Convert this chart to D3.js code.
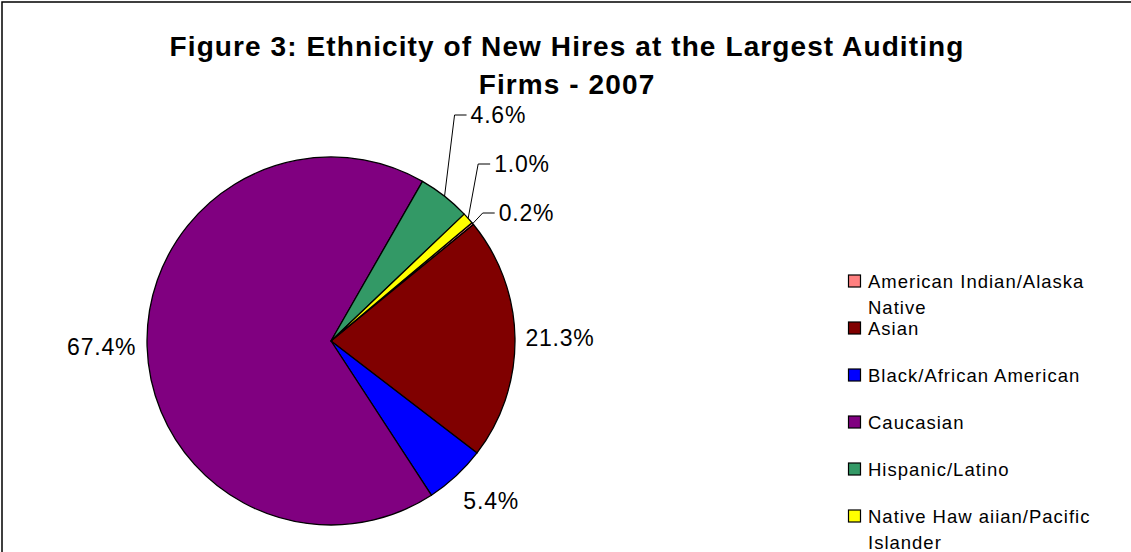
<!DOCTYPE html>
<html lang="en">
<head>
  <meta charset="utf-8">
  <title>Ethnicity of New Hires</title>
  <script src="https://d3js.org/d3.v7.min.js"></script>
  <style>
    body { margin: 0; background: #fff; }
    svg text { font-family: "Liberation Sans", Arial, sans-serif; fill: #000; }
  </style>
</head>
<body>
<svg width="1131" height="552"></svg>
<script>
// data
var groups = ["American Indian/Alaska Native", "Asian", "Black/African American",
              "Caucasian", "Hispanic/Latino", "Native Haw aiian/Pacific Islander"];
var shares = [0.2, 21.3, 5.4, 67.4, 4.6, 1.0];
var legendLines = [["American Indian/Alaska", "Native"], ["Asian"], ["Black/African American"],
                   ["Caucasian"], ["Hispanic/Latino"], ["Native Haw aiian/Pacific", "Islander"]];
var colors = ["#FF8080", "#800000", "#0000FF", "#800080", "#339966", "#FFFF00"];
var titleLines = ["Figure 3: Ethnicity of New Hires at the Largest Auditing", "Firms - 2007"];

var svg = d3.select("svg"),
    cx = 331, cy = 341, radius = 184;

// chart frame (runs off the right and bottom)
svg.append("rect")
    .attr("x", 2).attr("y", 2)
    .attr("width", 1160).attr("height", 580)
    .attr("fill", "none").attr("stroke", "#000").attr("stroke-width", 1.5);

svg.selectAll("text.title")
  .data(titleLines)
  .enter().append("text")
    .attr("class", "title")
    .attr("x", 567)
    .attr("y", function(d, i) { return 56 + i * 38; })
    .attr("text-anchor", "middle")
    .style("font-size", "28px")
    .style("letter-spacing", "1.1px")
    .style("font-weight", "bold")
    .text(function(d) { return d; });

var color = d3.scaleOrdinal().domain(groups).range(colors);

var pie = d3.pie()
    .sort(null)
    .startAngle(50 * Math.PI / 180)
    .endAngle(50 * Math.PI / 180 + 2 * Math.PI)
    .value(function(d, i) { return shares[i]; });

var arcs = pie(groups);

var arc = d3.arc().innerRadius(0).outerRadius(radius);

var g = svg.append("g").attr("transform", "translate(" + cx + "," + cy + ")");

g.selectAll("path")
  .data(arcs)
  .enter().append("path")
    .attr("d", arc)
    .attr("fill", function(d) { return color(d.data); })
    .attr("stroke", "#000")
    .attr("stroke-width", 1.3)
    .attr("stroke-linejoin", "round");

function mid(d) { return ((d.startAngle + d.endAngle) / 2) % (2 * Math.PI); }

// labels outside end for big slices, leader lines for the small ones
var big = arcs.filter(function(d) { return d.value >= 5; });
var small = arcs.filter(function(d) { return d.value < 5; })
    .sort(function(a, b) { return mid(b) - mid(a); });

var labelFont = "23px";

big.forEach(function(d) {
  var a = mid(d), s = Math.sin(a), c = -Math.cos(a);
  var rr = radius + 10 + 28 * Math.abs(s * c);
  var px = s * rr, py = c * rr;
  var t = g.append("text")
      .style("font-size", labelFont)
      .style("letter-spacing", "0.8px")
      .attr("dominant-baseline", "central")
      .text(d.value.toFixed(1) + "%");
  var w = t.node().getComputedTextLength(), h = 20;
  t.attr("x", px + s * w / 2 - w / 2).attr("y", py + c * h / 2);
});

small.forEach(function(d, i) {
  var a = mid(d), s = Math.sin(a), c = -Math.cos(a);
  var ex = s * radius, ey = c * radius;
  var ly = -128 - i * 49;
  var kx = ex + 10;
  g.append("path")
      .attr("d", "M" + ex + "," + ey + "L" + kx + "," + ly + "L" + (kx + 12) + "," + ly)
      .attr("fill", "none").attr("stroke", "#000").attr("stroke-width", 1);
  g.append("text")
      .attr("x", kx + 16).attr("y", ly)
      .attr("dominant-baseline", "central")
      .style("font-size", labelFont)
      .style("letter-spacing", "0.8px")
      .text(d.value.toFixed(1) + "%");
});

// legend
var legend = svg.append("g").attr("transform", "translate(848,281)");
var item = legend.selectAll("g")
  .data(groups)
  .enter().append("g")
    .attr("transform", function(d, i) { return "translate(0," + i * 47 + ")"; });

item.append("rect")
    .attr("x", 0.5).attr("y", -6)
    .attr("width", 12).attr("height", 12)
    .attr("fill", function(d) { return color(d); })
    .attr("stroke", "#000").attr("stroke-width", 1.2);

item.append("text")
    .attr("x", 20)
    .style("font-size", "18.5px")
    .style("letter-spacing", "1px")
    .selectAll("tspan")
    .data(function(d, i) { return legendLines[i]; })
    .enter().append("tspan")
      .attr("x", 20)
      .attr("y", function(d, j) { return j * 26; })
      .attr("dominant-baseline", "central")
      .text(function(d) { return d; });
</script>
</body>
</html>
